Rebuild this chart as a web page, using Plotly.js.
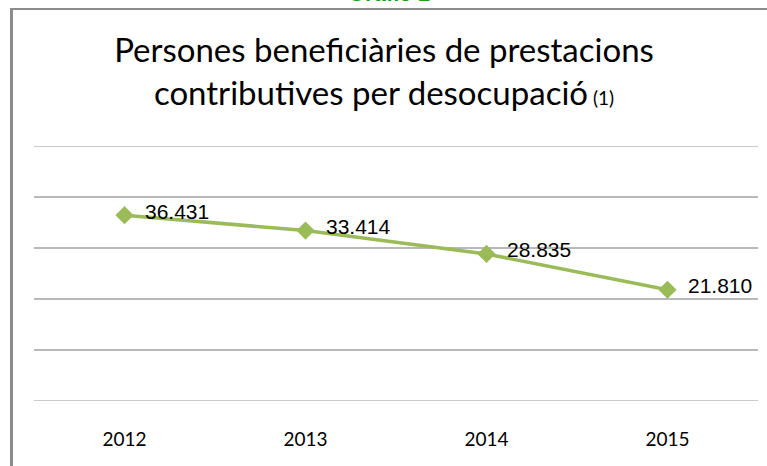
<!DOCTYPE html>
<html>
<head>
<meta charset="utf-8">
<script src="https://cdn.plot.ly/plotly-3.0.1.min.js"></script>
<style>
html,body{margin:0;padding:0;background:#fff;}
#wrap{position:relative;width:767px;height:466px;overflow:hidden;}
#chart{position:absolute;left:0;top:0;width:767px;height:466px;}
#frame{position:absolute;left:10px;top:8px;width:800px;height:500px;border-left:3px solid #8c8c8c;border-top:2px solid #8c8c8c;pointer-events:none;}
</style>
</head>
<body>
<div id="wrap">
<div id="chart"></div>
<div id="frame"></div>
</div>
<script>
const years = ['2012', '2013', '2014', '2015'];
const beneficiaries = [36431, 33414, 28835, 21810];
const valueLabels = ['36.431', '33.414', '28.835', '21.810'];

const trace = {
  x: years,
  y: beneficiaries,
  type: 'scatter',
  mode: 'lines+markers',
  line: {color: '#9bbb59', width: 3.5},
  marker: {symbol: 'diamond', size: 14, color: '#9bbb59'},
  hoverinfo: 'skip'
};

const labelAnnotations = years.map((yr, i) => ({
  x: i, y: beneficiaries[i], xref: 'x', yref: 'y',
  text: valueLabels[i], showarrow: false,
  xanchor: 'left', yanchor: 'middle', xshift: 18, yshift: 4,
  font: {family: 'Liberation Sans, Arial, sans-serif', size: 21, color: '#000'}
}));

const layout = {
  width: 767, height: 466,
  margin: {l: 34, r: 9, t: 146, b: 65},
  paper_bgcolor: '#ffffff',
  plot_bgcolor: '#ffffff',
  showlegend: false,
  title: {
    text: 'Persones beneficiàries de prestacions<br>contributives per desocupació<span style="font-size:19px"> (1)</span>',
    font: {family: 'Lato, Calibri, sans-serif', size: 33, color: '#000'},
    x: 384/767, xanchor: 'center', xref: 'container',
    y: 1 - 62/466, yanchor: 'middle', yref: 'container'
  },
  xaxis: {
    type: 'category',
    range: [-0.5, 3.5],
    showgrid: false, zeroline: false, showline: false,
    ticks: '',
    tickfont: {family: 'Lato, Calibri, sans-serif', size: 19, color: '#000'},
    ticklabelstandoff: 25
  },
  yaxis: {
    range: [0, 50000],
    dtick: 10000,
    showgrid: true, gridcolor: '#b8b8b8', gridwidth: 1.5,
    zeroline: false, showline: false,
    showticklabels: false, ticks: ''
  },
  shapes: [0, 50000].map(v => ({
    type: 'line', xref: 'paper', yref: 'y', x0: 0, x1: 1, y0: v, y1: v,
    line: {color: '#b8b8b8', width: 1.5}
  })),
  annotations: labelAnnotations.concat([{
    xref: 'paper', yref: 'paper', x: 0.49, y: (401 - 8) / 255,
    xanchor: 'center', yanchor: 'bottom', showarrow: false,
    text: '<b>Gràfic 1</b>',
    font: {family: 'Liberation Sans, Arial, sans-serif', size: 22, color: '#1f9a1f'}
  }])
};

Plotly.newPlot('chart', [trace], layout, {displayModeBar: false, staticPlot: true});
</script>
</body>
</html>
